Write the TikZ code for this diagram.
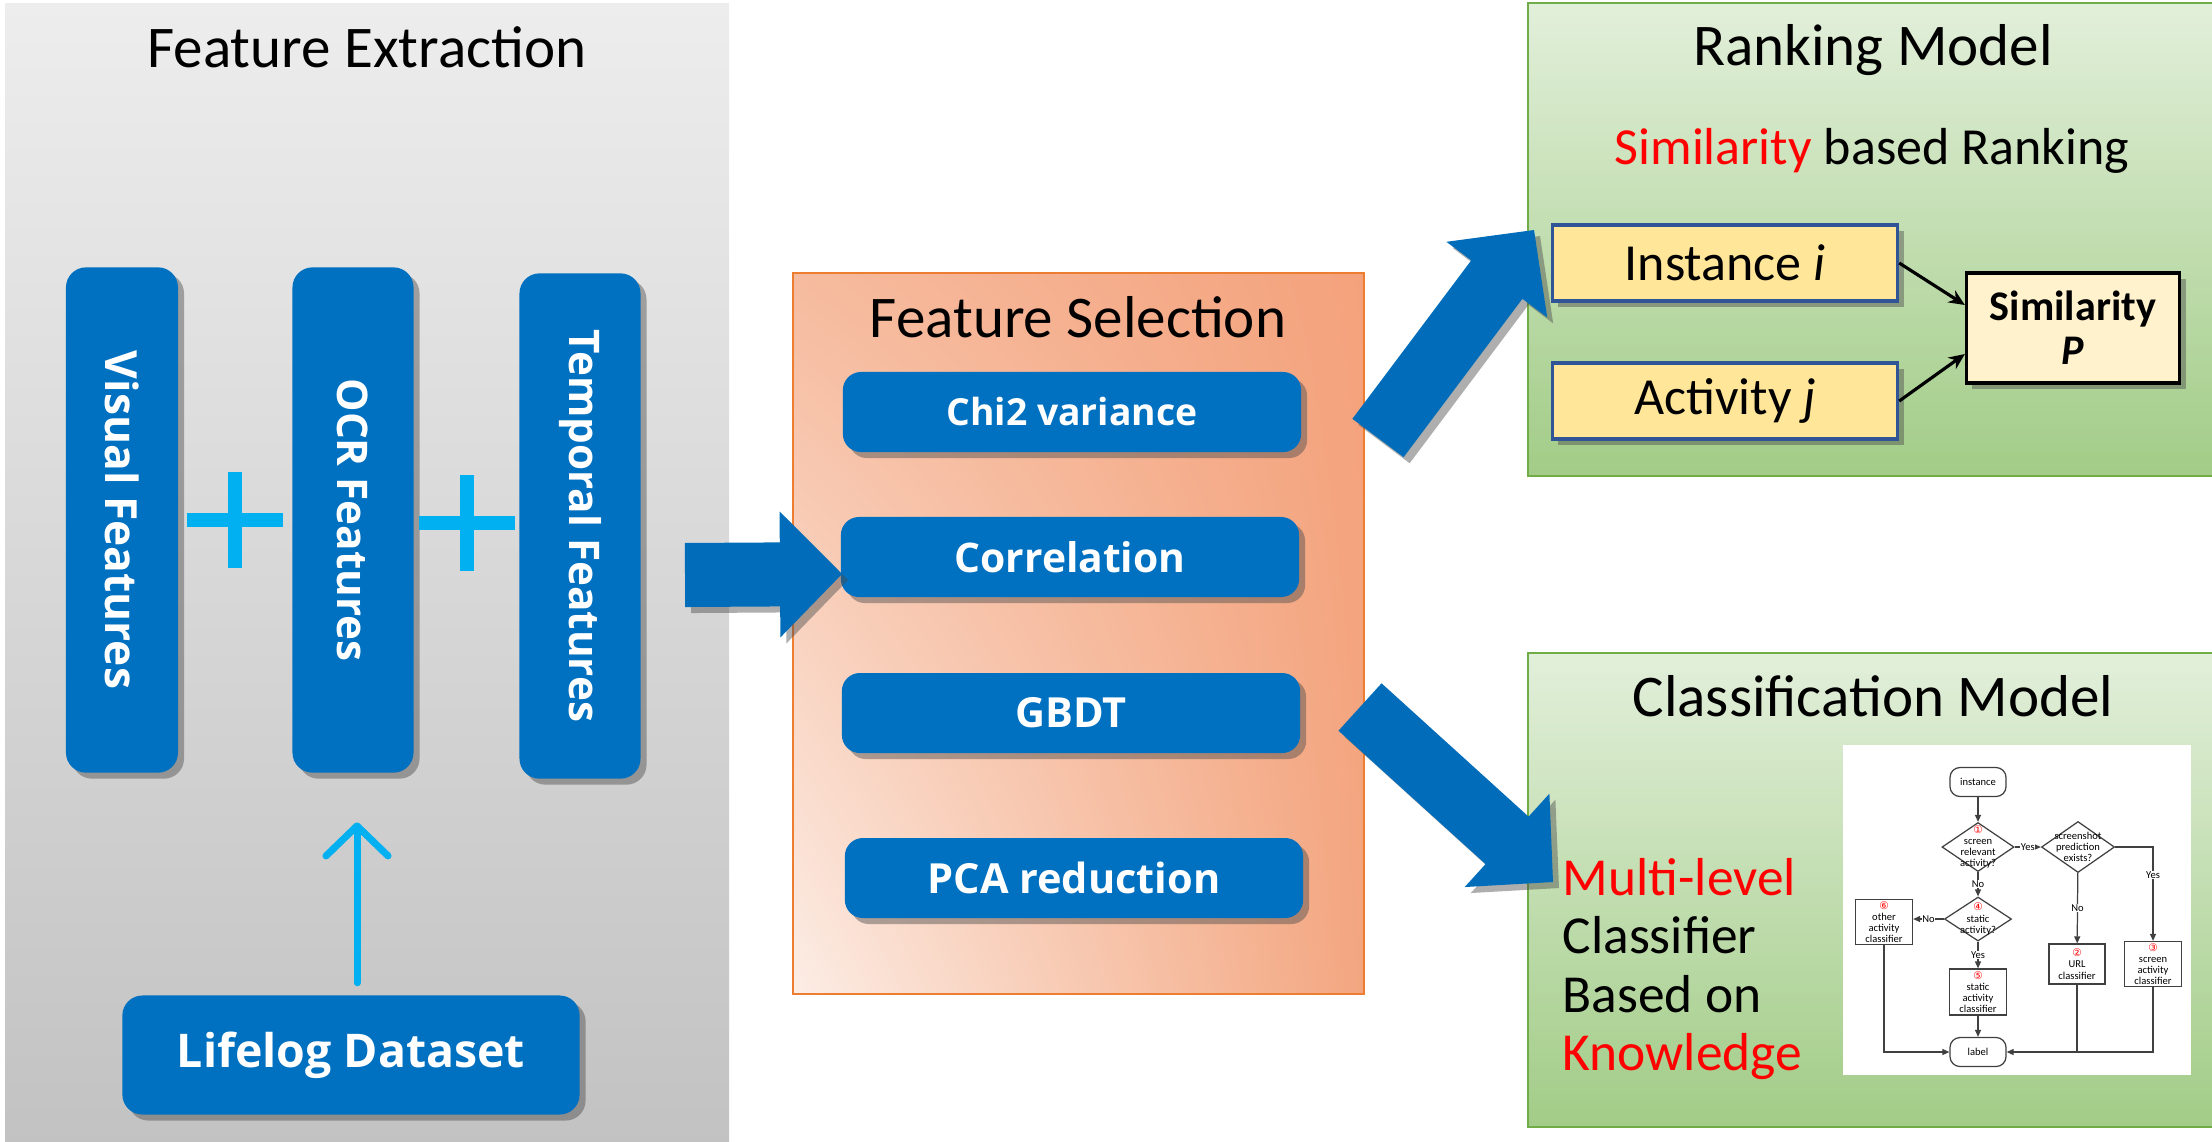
\documentclass[tikz,border=0pt]{standalone}
\usepackage{fontspec}
\usepackage{graphicx}
\setmainfont{Carlito}
\newfontfamily\boxfont{Open Sans}
\newfontfamily\symfont{DejaVu Sans}
\usetikzlibrary{positioning,calc,shapes.geometric,arrows.meta,shadows,shadings}

\definecolor{boxblue}{HTML}{0070C0}
\definecolor{arrowblue}{HTML}{006CBA}
\definecolor{plusblue}{HTML}{00B0F0}
\definecolor{graytop}{HTML}{EDEDED}
\definecolor{graybot}{HTML}{C2C2C2}
\definecolor{orngUL}{HTML}{F6BB9E}
\definecolor{orngUR}{HTML}{F4A27C}
\definecolor{orngLL}{HTML}{FCEDE5}
\definecolor{orngLR}{HTML}{F3A680}
\definecolor{orngline}{HTML}{ED7D31}
\definecolor{greentop}{HTML}{E2EFDA}
\definecolor{greenbot}{HTML}{A2CC87}
\definecolor{greenline}{HTML}{70AD47}
\definecolor{itemfill}{HTML}{FFE699}
\definecolor{itemline}{HTML}{2F5597}
\definecolor{simfill}{HTML}{FFF2CC}
\definecolor{fcgray}{HTML}{404040}
\definecolor{hlred}{HTML}{FF0000}

% block arrow from #1 (tail) to #2 (tip)
\newcommand{\blockarrow}[2]{%
  \coordinate (neck) at ($(#2)!0.62cm!(#1)$);
  \fill[bigarrow] ($(#1)!0.32cm!90:(#2)$) -- ($(neck)!0.32cm!-90:(#1)$)
    -- ($(neck)!0.63cm!-90:(#1)$) -- (#2) -- ($(neck)!0.63cm!90:(#1)$)
    -- ($(neck)!0.32cm!90:(#1)$) -- ($(#1)!0.32cm!-90:(#2)$) -- cycle;}
\newcommand{\cnum}[1]{\textcolor{hlred}{\symfont #1}}

\tikzset{
  shadowed/.style={drop shadow={shadow xshift=0.06cm, shadow yshift=-0.06cm, opacity=0.45, fill=black!70}},
  featbox/.style={shadowed, rounded corners=0.2cm, fill=boxblue, text=white, inner sep=0pt,
    font=\boxfont\bfseries\fontsize{12}{14}\selectfont},
  selbox/.style={featbox, rounded corners=0.18cm, minimum width=4.58cm, minimum height=0.8cm,
    font=\boxfont\bfseries\fontsize{11.8}{14}\selectfont},
  paneltitle/.style={font=\fontsize{16.8}{20}\selectfont, inner sep=0pt},
  subtitle/.style={font=\fontsize{14.8}{18}\selectfont, inner sep=0pt},
  plussign/.style={draw=plusblue, line width=0.14cm},
  uparrow/.style={draw=plusblue, line width=0.07cm, line cap=round,
    -{Straight Barb[length=0.3cm, width=0.62cm, round]}},
  bigarrow/.style={fill=arrowblue, shadowed},
  itembox/.style={shadowed, fill=itemfill, draw=itemline, line width=0.9pt, minimum width=3.45cm,
    minimum height=0.76cm, inner sep=0pt, font=\fontsize{14.8}{18}\selectfont},
  simbox/.style={shadowed, fill=simfill, draw=black, line width=0.9pt, minimum width=2.13cm,
    minimum height=1.1cm, inner sep=0pt, align=center, font=\bfseries\fontsize{12}{12.5}\selectfont},
  simarrow/.style={draw=black, line width=0.9pt, -{Stealth[length=0.16cm, width=0.14cm]}},
  cltext/.style={align=left, inner sep=0pt, font=\fontsize{15.2}{16.5}\selectfont},
  fcbox/.style={draw=fcgray, line width=0.35pt, fill=white, inner sep=0pt, align=center,
    font=\fontsize{3}{3.2}\selectfont},
  fcterm/.style={fcbox, rounded corners=0.1cm},
  fcdia/.style={fcbox, diamond},
  fctext/.style={inner sep=0pt, align=center, font=\fontsize{3}{3.2}\selectfont},
  fclabel/.style={fill=white, inner sep=0.2pt, font=\fontsize{3}{3.2}\selectfont},
  fcarrow/.style={draw=fcgray, line width=0.35pt, -{Triangle[length=0.7mm, width=0.6mm]}},
  fcline/.style={draw=fcgray, line width=0.35pt},
}

\begin{document}
\begin{tikzpicture}[x=0.01cm, y=-0.01cm]
\useasboundingbox (0,0) rectangle (2212,1141);

% panels
\shade[top color=graytop, bottom color=graybot] (5,3) rectangle (729,1150);
\shadedraw[upper left=orngUL, upper right=orngUR, lower left=orngLL, lower right=orngLR,
  draw=orngline, line width=0.5pt] (793,273) rectangle (1364,994);
\shadedraw[top color=greentop, bottom color=greenbot, draw=greenline, line width=0.6pt] (1528,3) rectangle (2230,476);
\shadedraw[top color=greentop, bottom color=greenbot, draw=greenline, line width=0.6pt] (1528,653) rectangle (2230,1127);

\node[paneltitle, anchor=base] (extitle) at (367,67) {Feature Extraction};
\node[paneltitle, anchor=base] (seltitle) at (1078,337) {Feature Selection};
\node[paneltitle, anchor=base] (ranktitle) at (1873,65) {Ranking Model};
\node[subtitle, anchor=base] (ranksub) at (1872,164) {\textcolor{hlred}{Similarity} based Ranking};
\node[paneltitle, anchor=base] (clstitle) at (1873,716) {Classification Model};

% feature extraction
\node[featbox, minimum width=1.12cm, minimum height=5.05cm,
  font=\boxfont\bfseries\fontsize{12.6}{14}\selectfont] (visual) at (122,520) {\rotatebox{-90}{Visual Features}};
\node[featbox, minimum width=1.21cm, minimum height=5.05cm] (ocr) at (353,520) {\rotatebox{-90}{OCR Features}};
\node[featbox, minimum width=1.21cm, minimum height=5.05cm] (temporal) at (580,526) {\rotatebox{-90}{Temporal Features}};
\node[featbox, minimum width=4.57cm, minimum height=1.19cm,
  font=\boxfont\bfseries\fontsize{13.2}{15}\selectfont] (lifelog) at (351,1055) {Lifelog Dataset};

\draw[plussign] ($(visual.east)!0.5!(ocr.west)$) +(-48,0) -- +(48,0) +(0,-48) -- +(0,48);
\draw[plussign] ($(ocr.east)!0.5!(temporal.west)$) +(-48,0) -- +(48,0) +(0,-48) -- +(0,48);
\draw[uparrow, shorten <=0.12cm, shorten >=0.49cm] ([xshift=0.06cm]lifelog.north) -- ([xshift=0.06cm]lifelog.north |- ocr.south);

% feature selection
\node[selbox, font=\boxfont\bfseries\fontsize{10.6}{13}\selectfont] (chi) at (1072,412) {Chi2 variance};
\node[selbox, font=\boxfont\bfseries\fontsize{11.6}{14}\selectfont] (corr) at (1070,557) {Correlation};
\node[selbox] (gbdt) at (1071,713) {GBDT};
\node[selbox] (pca) at (1074,878) {PCA reduction};

% ranking model
\node[itembox] (inst) at (1725,263) {Instance \textit{i}};
\node[itembox] (act) at (1725,401) {Activity \textit{j}};
\node[simbox] (sim) at (2073,328) {Similarity\\\textit{P}};
\draw[simarrow] (inst.east) -- ([yshift=0.23cm]sim.west);
\draw[simarrow] (act.east) -- ([yshift=-0.26cm]sim.west);

% classification model
\node[cltext, anchor=base west] (cltxt) at (1562,1070)
  {\textcolor{hlred}{Multi-level}\\Classifier\\Based on\\\textcolor{hlred}{Knowledge}};
\fill[white] (1843,745) rectangle (2191,1075);
\node[fcterm, minimum width=0.56cm, minimum height=0.29cm] (fcInst) at (1978,782) {instance};
\node[fcdia, minimum width=0.72cm, minimum height=0.49cm,
  label={[fctext]center:{\cnum{①}\\screen\\relevant\\activity?}}] (fcD1) at (1978,847) {};
\node[fcdia, minimum width=0.73cm, minimum height=0.51cm,
  label={[fctext]center:{screenshot\\prediction\\exists?}}] (fcD2) at (2078,847) {};
\node[fcdia, minimum width=0.67cm, minimum height=0.44cm,
  label={[fctext]center:{\cnum{④}\\static\\activity?}}] (fcD3) at (1978,919) {};
\node[fcbox, minimum width=0.57cm, minimum height=0.45cm] (fcOther) at (1884,922) {\cnum{⑥}\\other\\activity\\classifier};
\node[fcbox, minimum width=0.57cm, minimum height=0.46cm] (fcStatic) at (1978,992) {\cnum{⑤}\\static\\activity\\classifier};
\node[fcbox, minimum width=0.56cm, minimum height=0.40cm] (fcURL) at (2077,964) {\cnum{②}\\URL\\classifier};
\node[fcbox, minimum width=0.57cm, minimum height=0.45cm] (fcScreen) at (2153,964) {\cnum{③}\\screen\\activity\\classifier};
\node[fcterm, minimum width=0.56cm, minimum height=0.29cm] (fcLabel) at (1978,1052) {label};

\draw[fcarrow] (fcInst) -- (fcD1);
\draw[fcarrow] (fcD1) -- node[fclabel]{Yes} (fcD2);
\draw[fcarrow] (fcD2.east) -| node[fclabel, pos=0.65]{Yes} (fcScreen.north);
\draw[fcarrow] (fcD2) -- node[fclabel]{No} (fcURL);
\draw[fcarrow] (fcD1) -- node[fclabel]{No} (fcD3);
\draw[fcarrow] (fcD3.west) -- node[fclabel]{No} (fcD3.west -| fcOther.east);
\draw[fcarrow] (fcD3) -- node[fclabel]{Yes} (fcStatic);
\draw[fcarrow] (fcStatic) -- (fcLabel);
\draw[fcarrow] (fcOther.south) |- (fcLabel.west);
\draw[fcarrow] (fcScreen.south) |- (fcLabel.east);
\draw[fcline] (fcURL.south) -- (fcURL.south |- fcLabel.east);

% big arrows
\coordinate (extOut) at (685,575);
\coordinate (selIn) at (842,574);
\coordinate (selOutA) at (1378,438);
\coordinate (rankIn) at (1534,230);
\coordinate (selOutB) at (1360,707);
\coordinate (clsIn) at (1553,882);
\blockarrow{extOut}{selIn}
\blockarrow{selOutA}{rankIn}
\blockarrow{selOutB}{clsIn}
\end{tikzpicture}
\end{document}
